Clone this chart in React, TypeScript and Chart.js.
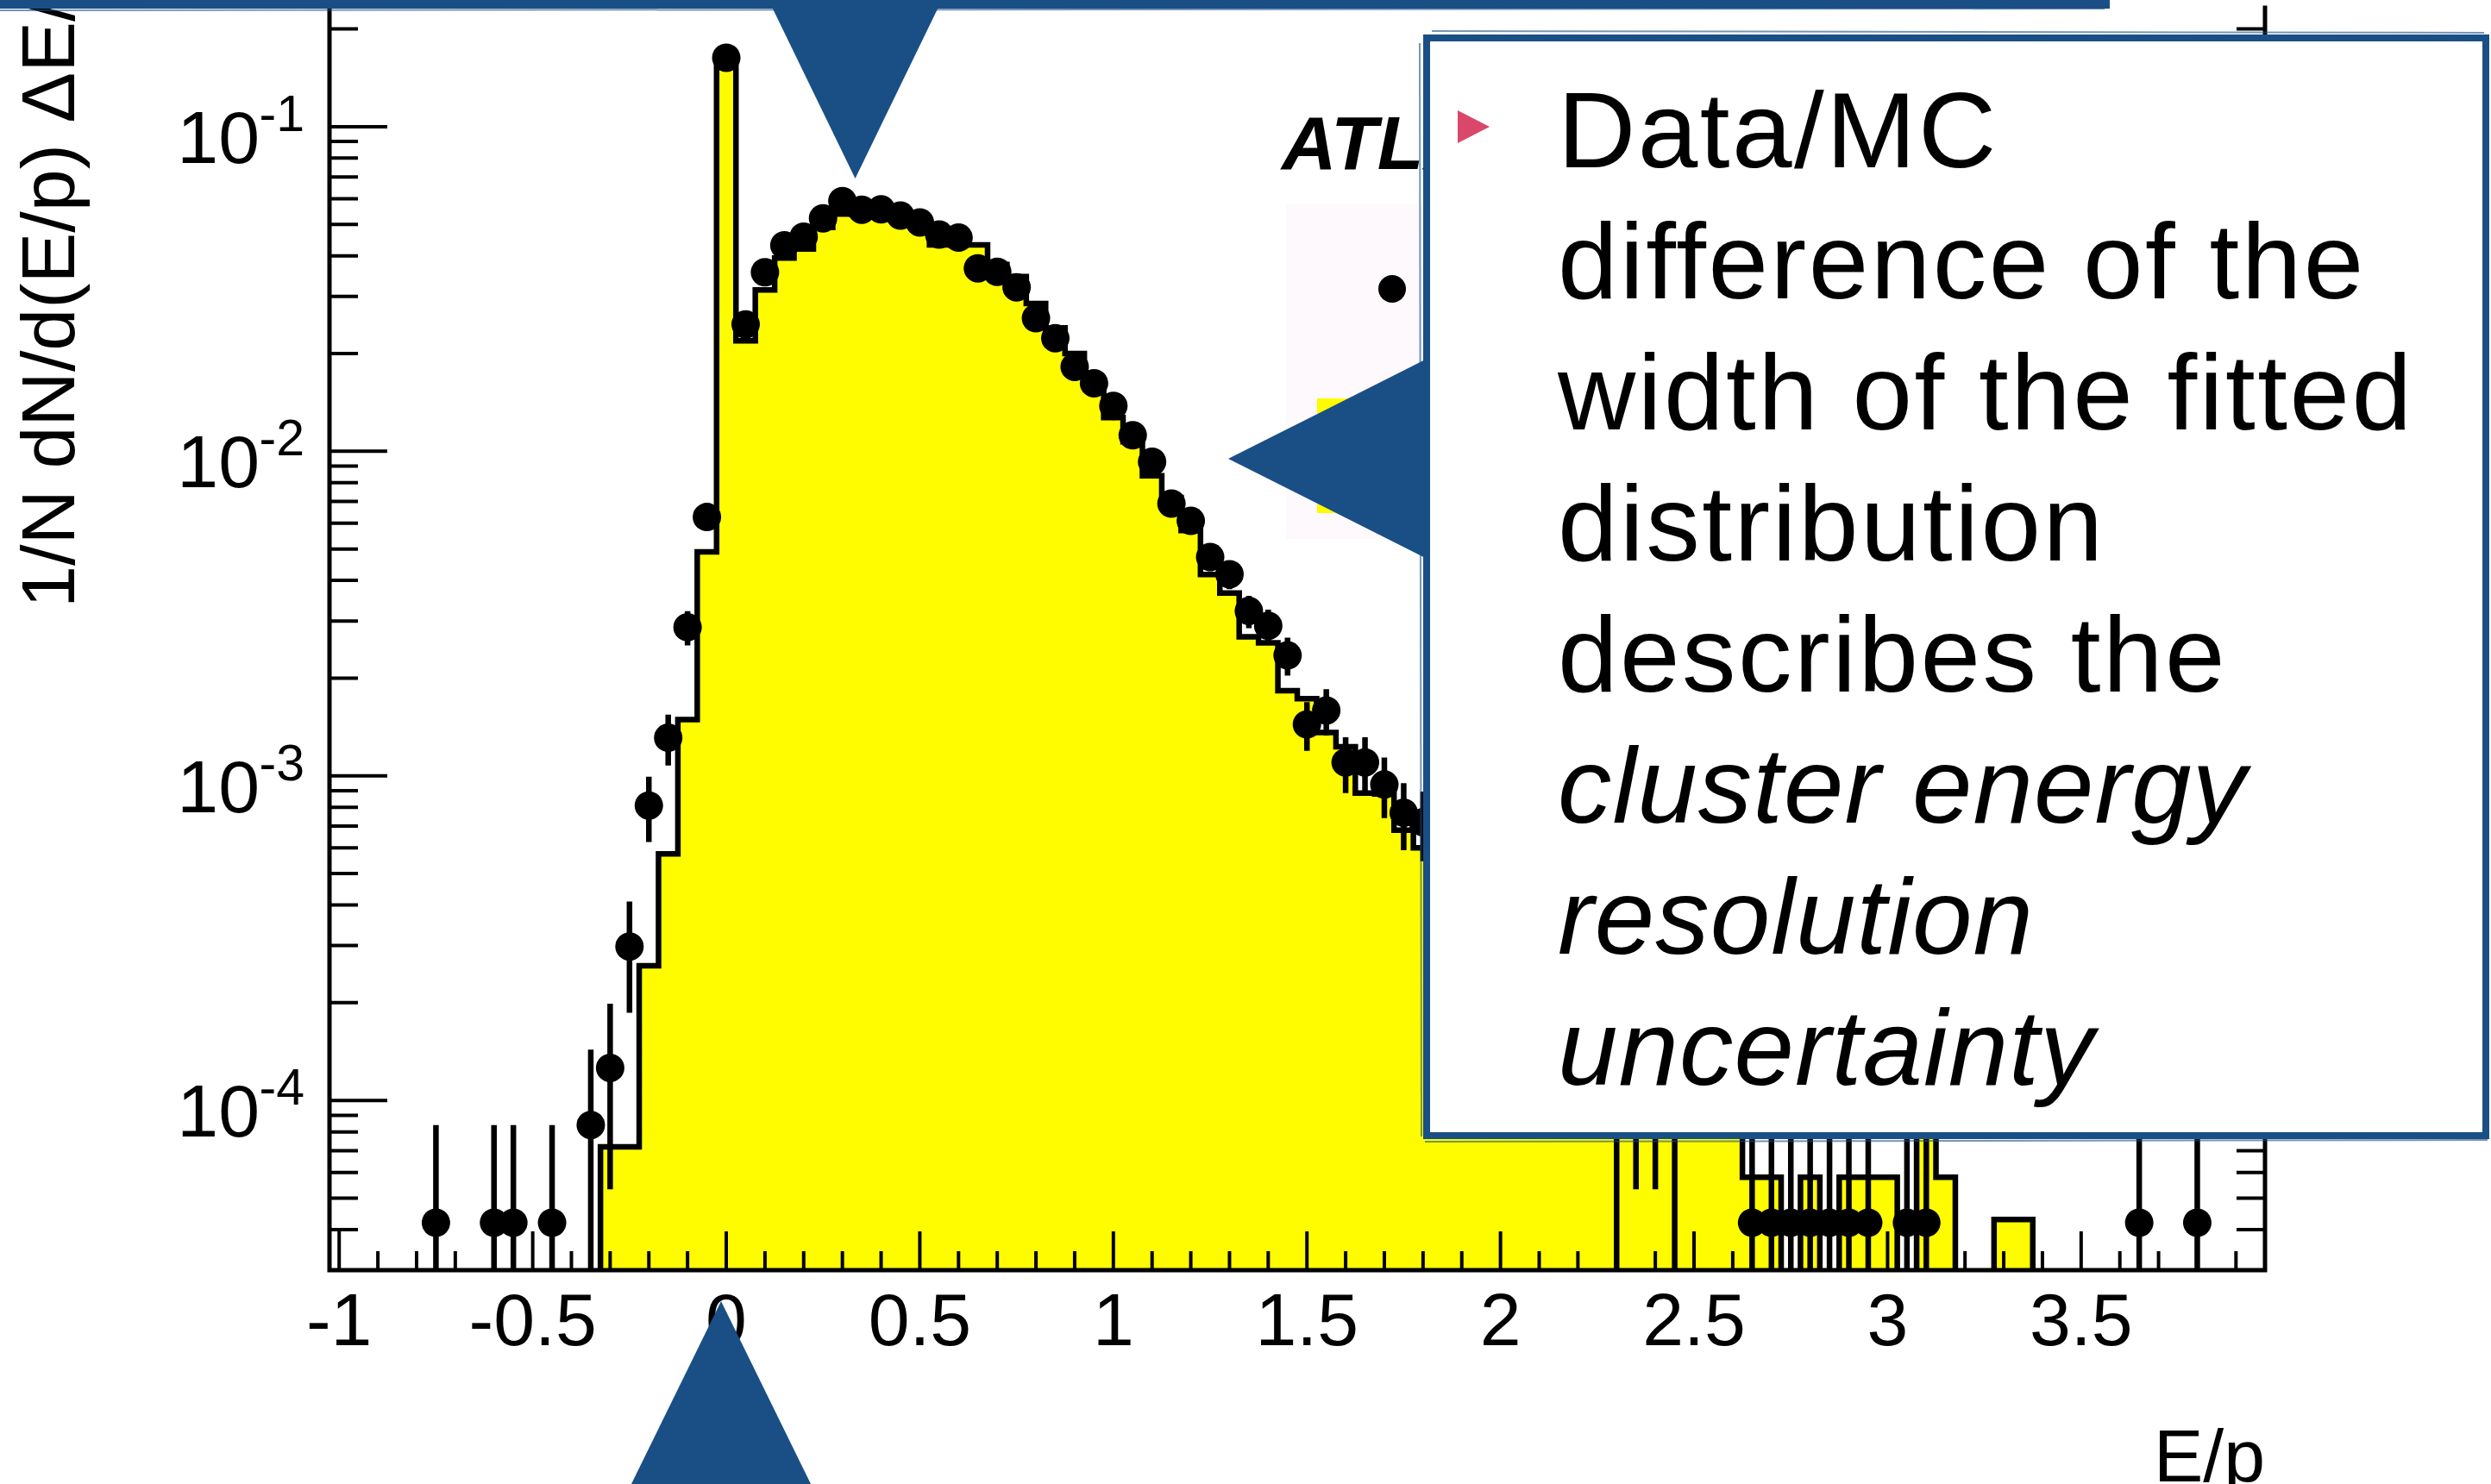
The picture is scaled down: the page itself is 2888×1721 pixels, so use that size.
import React, { useEffect, useRef } from 'react';
import { Chart, registerables } from 'chart.js';

Chart.register(...registerables);

const W = 2888;
const H = 1721;
const FONT = '"Liberation Sans", Arial, Helvetica, sans-serif';

// ---- histogram definition (bin centres, width 0.05) ----
const binCenters = [
  -1.0, -0.95, -0.9, -0.85, -0.8, -0.75, -0.7, -0.65, -0.6, -0.55,
  -0.5, -0.45, -0.4, -0.35, -0.3, -0.25, -0.2, -0.15, -0.1, -0.05,
  0.0, 0.05, 0.1, 0.15, 0.2, 0.25, 0.3, 0.35, 0.4, 0.45,
  0.5, 0.55, 0.6, 0.65, 0.7, 0.75, 0.8, 0.85, 0.9, 0.95,
  1.0, 1.05, 1.1, 1.15, 1.2, 1.25, 1.3, 1.35, 1.4, 1.45,
  1.5, 1.55, 1.6, 1.65, 1.7, 1.75, 1.8, 1.85, 1.9, 1.95,
  2.0, 2.05, 2.1, 2.15, 2.2, 2.25, 2.3, 2.35, 2.4, 2.45,
  2.5, 2.55, 2.6, 2.65, 2.7, 2.75, 2.8, 2.85, 2.9, 2.95,
  3.0, 3.05, 3.1, 3.15, 3.2, 3.25, 3.3, 3.35, 3.4, 3.45,
  3.5, 3.55, 3.6, 3.65, 3.7, 3.75, 3.8, 3.85, 3.9, 3.95,
];
const binWidth = 0.05;

// Data (black points)
const dataValues = [
  0, 0, 0, 0, 0, 4.2e-5, 0, 0, 4.2e-5, 4.2e-5,
  0, 4.2e-5, 0, 8.4e-5, 1.26e-4, 2.98e-4, 8.1e-4, 1.31e-3, 2.87e-3, 6.27e-3,
  0.163, 0.0246, 0.0356, 0.0431, 0.0458, 0.0522, 0.059, 0.0555, 0.0556, 0.0532,
  0.0507, 0.0465, 0.0455, 0.0366, 0.0357, 0.032, 0.0257, 0.0223, 0.0182, 0.0162,
  0.0138, 0.0112, 0.00928, 0.0069, 0.0061, 0.00472, 0.00418, 0.00322, 0.0029, 0.00235,
  0.00144, 0.00159, 0.0011, 0.0011, 0.00094, 0.00077, 0.00072, 0.00058, 0.0005, 0.00042,
  0.00036, 0.00029, 0.00025, 0.00021, 0.00017, 0.00017, 8.4e-5, 1.26e-4, 1.26e-4, 8.4e-5,
  1.68e-4, 1.68e-4, 1.68e-4, 4.2e-5, 4.2e-5, 4.2e-5, 4.2e-5, 4.2e-5, 4.2e-5, 4.2e-5,
  0, 4.2e-5, 4.2e-5, 0, 0, 0, 0, 0, 0, 0,
  0, 0, 0, 4.2e-5, 0, 0, 4.2e-5, 0, 0, 0,
];

// Simulation (yellow histogram)
const mcValues = [
  0, 0, 0, 0, 0, 0, 0, 0, 0, 0,
  0, 0, 0, 0, 7.2e-5, 7.2e-5, 2.6e-4, 5.75e-4, 1.49e-3, 4.9e-3,
  0.154, 0.0219, 0.0314, 0.0394, 0.042, 0.0489, 0.0538, 0.0536, 0.053, 0.0515,
  0.0492, 0.0432, 0.0432, 0.0432, 0.0376, 0.0345, 0.0285, 0.024, 0.02, 0.016,
  0.0127, 0.0107, 0.0084, 0.0072, 0.0057, 0.00417, 0.00366, 0.00268, 0.00257, 0.00183,
  0.00173, 0.00136, 0.00123, 0.000885, 0.00088, 0.00068, 0.0006, 0.00052, 0.00045, 0.00039,
  0.00033, 0.00028, 0.00024, 0.0002, 0.00017, 0.00014, 0.00012, 0.00011, 0.0001, 9.5e-5,
  9e-5, 8.5e-5, 8e-5, 5.8e-5, 5.8e-5, 0, 5.8e-5, 0, 5.8e-5, 5.8e-5,
  5.8e-5, 0, 8.5e-5, 5.8e-5, 0, 0, 4.3e-5, 4.3e-5, 0, 0,
  0, 0, 0, 0, 0, 0, 0, 0, 0, 0,
];

const oneEvent = 4.2e-5; // weight of a single data entry (Poisson errors)
const xMin = -1.025;
const xMax = 3.975;
const yMin = 3e-5;
const yMax = 0.222;

const xMajorTicks = [-1, -0.5, 0, 0.5, 1, 1.5, 2, 2.5, 3, 3.5];
const xTickLabels = ['-1', '-0.5', '0', '0.5', '1', '1.5', '2', '2.5', '3', '3.5'];
const yMajorTicks = [1e-4, 1e-3, 1e-2, 1e-1];
const yTickExponents = ['-4', '-3', '-2', '-1'];

const xAxisTitle = 'E/p';
const yAxisTitle = '1/N dN/d(E/p) \u0394E/p';
const atlasLabel = 'ATLAS';

const bulletLines = [
  { text: 'Data/MC', italic: false },
  { text: 'difference of the', italic: false },
  { text: 'width of the fitted', italic: false },
  { text: 'distribution', italic: false },
  { text: 'describes the', italic: false },
  { text: 'cluster energy', italic: true },
  { text: 'resolution', italic: true },
  { text: 'uncertainty', italic: true },
];

const BLUE = '#1a4f86';
const YELLOW = '#fffc00';

const rootPlugin = {
  id: 'rootStyle',
  afterDatasetsDraw(chart: any) {
    const ctx = chart.ctx;
    const xs = chart.scales.x;
    const ys = chart.scales.y;
    const a = chart.chartArea;
    ctx.save();
    ctx.beginPath();
    ctx.rect(a.left, a.top, a.right - a.left, a.bottom - a.top);
    ctx.clip();
    ctx.strokeStyle = '#000';
    ctx.lineWidth = 6.5;
    ctx.lineCap = 'butt';
    binCenters.forEach((c, i) => {
      const v = dataValues[i];
      if (v <= 0) return;
      const e = Math.sqrt(v * oneEvent);
      const lo = Math.max(v - e, ys.min);
      const hi = Math.min(v + e, ys.max);
      const px = xs.getPixelForValue(c);
      ctx.beginPath();
      ctx.moveTo(px, ys.getPixelForValue(lo));
      ctx.lineTo(px, ys.getPixelForValue(hi));
      ctx.stroke();
    });
    ctx.restore();
  },
  afterDraw(chart: any) {
    const ctx = chart.ctx;
    const xs = chart.scales.x;
    const ys = chart.scales.y;
    const { left, right, top, bottom } = chart.chartArea;
    ctx.save();
    ctx.strokeStyle = '#000';
    ctx.fillStyle = '#000';

    // frame
    ctx.lineWidth = 5;
    ctx.beginPath();
    ctx.moveTo(left, top - 10);
    ctx.lineTo(left, bottom);
    ctx.lineTo(right, bottom);
    ctx.lineTo(right, top - 10);
    ctx.stroke();

    // x ticks (inward)
    ctx.lineWidth = 4;
    for (let k = -10; k <= 39; k++) {
      const v = k / 10;
      const major = k % 5 === 0;
      const px = xs.getPixelForValue(v);
      ctx.beginPath();
      ctx.moveTo(px, bottom);
      ctx.lineTo(px, bottom - (major ? 45 : 22));
      ctx.stroke();
    }
    // y ticks (left and right, inward)
    for (let d = -5; d <= -1; d++) {
      for (let m = 1; m <= 9; m++) {
        const v = m * Math.pow(10, d);
        if (v < ys.min * 0.999 || v > ys.max) continue;
        const py = ys.getPixelForValue(v);
        const len = m === 1 ? 67 : 33;
        ctx.beginPath();
        ctx.moveTo(left, py);
        ctx.lineTo(left + len, py);
        ctx.moveTo(right, py);
        ctx.lineTo(right - len, py);
        ctx.stroke();
      }
    }

    // x labels
    ctx.font = `86px ${FONT}`;
    ctx.textAlign = 'center';
    ctx.textBaseline = 'alphabetic';
    xMajorTicks.forEach((t, i) => {
      ctx.fillText(xTickLabels[i], xs.getPixelForValue(t), bottom + 87);
    });

    // y labels 10^n
    yMajorTicks.forEach((t, i) => {
      const py = ys.getPixelForValue(t);
      ctx.textAlign = 'right';
      ctx.font = `86px ${FONT}`;
      ctx.fillText('10', left - 81, py + 42);
      ctx.font = `59px ${FONT}`;
      ctx.fillText(yTickExponents[i], left - 29, py + 5);
    });

    // axis titles
    ctx.font = `86px ${FONT}`;
    ctx.textAlign = 'right';
    ctx.fillText(xAxisTitle, right, 1718);

    ctx.save();
    ctx.translate(86, 705);
    ctx.rotate(-Math.PI / 2);
    ctx.textAlign = 'left';
    ctx.font = `88px ${FONT}`;
    ctx.fillText(yAxisTitle, 0, 0);
    ctx.restore();

    // ATLAS label
    ctx.textAlign = 'left';
    ctx.font = `italic bold 88px ${FONT}`;
    ctx.fillText(atlasLabel, 1486, 196);

    // legend
    ctx.fillStyle = '#fdf9fd';
    ctx.fillRect(1491, 237, 260, 388);
    ctx.fillStyle = '#000';
    ctx.beginPath();
    ctx.arc(1614, 335, 16, 0, Math.PI * 2);
    ctx.fill();
    ctx.fillStyle = YELLOW;
    ctx.fillRect(1527, 462, 200, 133);

    ctx.restore();
  },
};

export default function App() {
  const ref = useRef<HTMLCanvasElement>(null);

  useEffect(() => {
    const canvas = ref.current;
    if (!canvas) return;
    const mcLine: { x: number; y: number }[] = [];
    binCenters.forEach((c, i) => {
      const v = mcValues[i] > 0 ? mcValues[i] : 1e-9;
      mcLine.push({ x: c - binWidth / 2, y: v });
      mcLine.push({ x: c + binWidth / 2, y: v });
    });
    const pts: { x: number; y: number }[] = [];
    binCenters.forEach((c, i) => {
      if (dataValues[i] > 0) pts.push({ x: c, y: dataValues[i] });
    });

    const chart = new Chart(canvas, {
      type: 'scatter',
      data: {
        datasets: [
          {
            label: 'Data',
            data: pts,
            pointRadius: 16.5,
            pointHoverRadius: 16.5,
            pointBackgroundColor: '#000',
            pointBorderWidth: 0,
            showLine: false,
          } as any,
          {
            type: 'line',
            label: 'MC',
            data: mcLine,
            borderColor: '#000',
            borderWidth: 6.5,
            backgroundColor: YELLOW,
            fill: 'start',
            pointRadius: 0,
            tension: 0,
            clip: 0,
            borderJoinStyle: 'miter',
          } as any,
        ],
      },
      options: {
        responsive: false,
        animation: false,
        devicePixelRatio: 1,
        events: [],
        layout: { padding: { left: 382, right: 262, top: 0, bottom: 248 } },
        plugins: { legend: { display: false }, tooltip: { enabled: false } },
        scales: {
          x: { type: 'linear', min: xMin, max: xMax, display: false, bounds: 'data' },
          y: { type: 'logarithmic', min: yMin, max: yMax, display: false, bounds: 'data' },
        },
      } as any,
      plugins: [rootPlugin],
    });
    return () => chart.destroy();
  }, []);

  const lineTop = 194 - 119.3;

  return (
    <div style={{ position: 'fixed', left: 0, top: 0, width: W, height: H, overflow: 'hidden', background: '#fff' }}>
      <canvas ref={ref} width={W} height={H} style={{ position: 'absolute', left: 0, top: 0, width: W, height: H }} />
      <svg width={W} height={H} style={{ position: 'absolute', left: 0, top: 0 }}>
        <rect x={0} y={0} width={2446} height={10} fill={BLUE} />
        <line x1={0} y1={12} x2={2440} y2={10} stroke={BLUE} strokeWidth={2} opacity={0.6} />
        <polygon points="891,0 1092,0 991.5,207" fill={BLUE} />
        <polygon points="1424,532 1700,393 1700,671" fill={BLUE} />
        <polygon points="836,1509 730,1725 942,1725" fill={BLUE} />
      </svg>
      <div
        style={{
          position: 'absolute', left: 1650, top: 40, width: 1236, height: 1281,
          border: `8px solid ${BLUE}`, boxSizing: 'border-box', background: '#fff',
        }}
      />
      <svg width={W} height={H} style={{ position: 'absolute', left: 0, top: 0 }}>
        <line x1={1660} y1={36} x2={2880} y2={38} stroke={BLUE} strokeWidth={2} opacity={0.6} />
        <line x1={1646} y1={50} x2={1648} y2={1318} stroke={BLUE} strokeWidth={2} opacity={0.6} />
        <line x1={1652} y1={1324} x2={2884} y2={1322} stroke={BLUE} strokeWidth={2} opacity={0.6} />
        <polygon points="1690,128 1690,166 1727,147" fill="#d9486b" />
      </svg>
      <div style={{ position: 'absolute', left: 1806, top: lineTop, fontFamily: FONT, fontSize: 125, lineHeight: '152px', color: '#000', whiteSpace: 'nowrap' }}>
        {bulletLines.map((l, i) => (
          <div key={i} style={{ fontStyle: l.italic ? 'italic' : 'normal', letterSpacing: l.italic ? '1px' : '2.5px' }}>{l.text}</div>
        ))}
      </div>
    </div>
  );
}
